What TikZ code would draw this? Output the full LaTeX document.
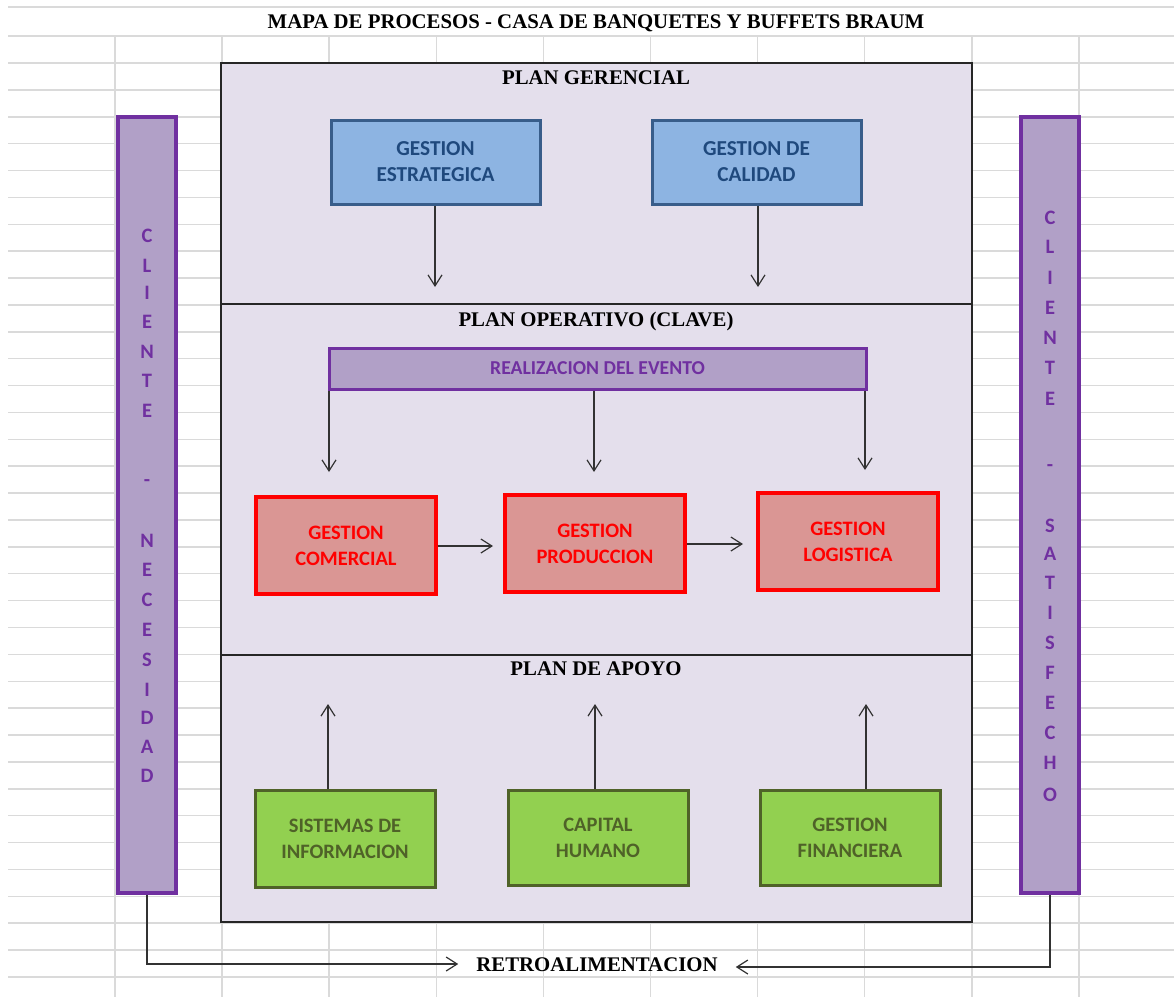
\documentclass[tikz,border=0pt]{standalone}
\usepackage{fontspec}
\setmainfont{Liberation Serif}
\newfontfamily\calib{Carlito}
\usetikzlibrary{arrows.meta}
\definecolor{gridc}{RGB}{218,218,218}
\definecolor{lav}{RGB}{228,223,236}
\definecolor{pfill}{RGB}{177,160,199}
\definecolor{pdraw}{RGB}{112,48,160}
\definecolor{bfill}{RGB}{141,180,226}
\definecolor{bdraw}{RGB}{56,93,138}
\definecolor{btext}{RGB}{31,73,125}
\definecolor{rfill}{RGB}{218,150,148}
\definecolor{rdraw}{RGB}{255,0,0}
\definecolor{gfill}{RGB}{146,208,80}
\definecolor{gdraw}{RGB}{79,98,40}
\definecolor{arrc}{RGB}{50,50,50}
\begin{document}
\begin{tikzpicture}[x=1pt,y=-1pt,
  gridline/.style={draw=gridc,line width=1.5pt},
  procbox/.style={draw,minimum width=180pt,minimum height=97pt,align=center,inner sep=0pt,
    font=\calib\bfseries\fontsize{20.5}{26}\selectfont},
  bluebox/.style={procbox,fill=bfill,draw=bdraw,text=btext,line width=3pt,minimum width=209pt,minimum height=84pt,
    font=\calib\bfseries\fontsize{21.3}{26}\selectfont},
  redbox/.style={procbox,fill=rfill,draw=rdraw,text=rdraw,line width=3.5pt},
  greenbox/.style={procbox,fill=gfill,draw=gdraw,text=gdraw,line width=3pt,minimum height=95pt},
  sidebar/.style={draw=pdraw,fill=pfill,line width=3.5pt,minimum width=58pt,minimum height=776pt,inner sep=0pt},
  sideletter/.style={text=pdraw,font=\calib\bfseries\fontsize{20.5}{24}\selectfont,text height=13pt,text depth=0pt,inner sep=0pt},
  hdr/.style={font=\bfseries\fontsize{20.8}{25}\selectfont,text height=14pt,text depth=0pt,inner sep=0pt},
  arr/.style={draw=arrc,line width=1.2pt,-{Straight Barb[length=11pt,width=14pt,line width=1.2pt]}}
]
\useasboundingbox (0,0) rectangle (1174,997);
\fill[white] (0,0) rectangle (1174,997);
% grid
\draw[gridline] (8,7) -- (1174,7);
\draw[gridline,line width=2pt] (8,36) -- (1174,36);
\foreach \k in {0,...,34} \draw[gridline] (8,{63+26.88*\k}) -- (1174,{63+26.88*\k});
\foreach \k in {0,...,9} \draw[gridline] ({115+107.1*\k},36) -- ({115+107.1*\k},997);
% title
\node[hdr] (title) at (596,21) {MAPA DE PROCESOS - CASA DE BANQUETES Y BUFFETS BRAUM};
% main frame
\draw[fill=lav,draw=black!85,line width=1.5pt] (221,63) rectangle (972,922);
\draw[black!85,line width=1.3pt] (221,304) -- (972,304);
\draw[black!85,line width=1.3pt] (221,655) -- (972,655);
\node[hdr] (h1) at (596,77) {PLAN GERENCIAL};
\node[hdr] (h2) at (596,319) {PLAN OPERATIVO (CLAVE)};
\node[hdr] (h3) at (596,668) {PLAN DE APOYO};
% side bars
\node[sidebar] (cl) at (147,505) {};
\node[sidebar] (cr) at (1050,505) {};
\foreach \ch/\yy [count=\i] in {C/236,L/266,I/293,E/322,N/352,T/381,E/411,-/480,N/541,E/570,C/600,E/630,S/660,I/690,D/718,A/747,D/776}
  \node[sideletter] (l\i) at (147,\yy) {\ch};
\foreach \ch/\yy [count=\i] in {C/218,L/247,I/278,E/308,N/338,T/368,E/399,-/465,S/526,A/554,T/583,I/613,S/643,F/673,E/703,C/733,H/763,O/795}
  \node[sideletter] (r\i) at (1050,\yy) {\ch};
% gerencial
\node[bluebox] (ge) at (435.5,162) {GESTION\\ESTRATEGICA};
\node[bluebox] (gc) at (756.5,162) {GESTION DE\\CALIDAD};
\coordinate (ge1) at (435,287);
\coordinate (gc1) at (758,287);
\draw[arr] (ge.south -| ge1) -- (ge1);
\draw[arr] (gc.south -| gc1) -- (gc1);
% operativo
\node[procbox,fill=pfill,draw=pdraw,text=pdraw,line width=3pt,minimum width=537pt,minimum height=41pt,
  font=\calib\bfseries\fontsize{19.7}{24}\selectfont] (re) at (597.5,368.5) {REALIZACION DEL EVENTO};
\coordinate (re1) at (329,472);
\coordinate (re2) at (594,472);
\coordinate (re3) at (865,470);
\draw[arr] (re.south -| re1) -- (re1);
\draw[arr] (re.south -| re2) -- (re2);
\draw[arr] (re.south -| re3) -- (re3);
\node[redbox] (gcom) at (346,545.5) {GESTION\\COMERCIAL};
\node[redbox] (gpro) at (595,543.5) {GESTION\\PRODUCCION};
\node[redbox] (glog) at (848,541.5) {GESTION\\LOGISTICA};
\coordinate (c1) at (493,546);
\coordinate (c2) at (743,544);
\draw[arr] (gcom.east |- c1) -- (c1);
\draw[arr] (gpro.east |- c2) -- (c2);
% apoyo
\node[greenbox,minimum height=97pt] (si) at (345,838.5) {SISTEMAS DE\\INFORMACION};
\node[greenbox] (ch) at (598,837.5) {CAPITAL\\HUMANO};
\node[greenbox] (gf) at (850,837.5) {GESTION\\FINANCIERA};
\coordinate (a1) at (328,704);
\coordinate (a2) at (595,704);
\coordinate (a3) at (866,704);
\draw[arr] (si.north -| a1) -- (a1);
\draw[arr] (ch.north -| a2) -- (a2);
\draw[arr] (gf.north -| a3) -- (a3);
% feedback
\node[hdr,inner xsep=18pt] (retro) at (597,964) {RETROALIMENTACION};
\draw[arr] (cl.south) |- (retro.west);
\draw[arr] (cr.south) |- ([yshift=-3pt]retro.east);
\end{tikzpicture}
\end{document}
